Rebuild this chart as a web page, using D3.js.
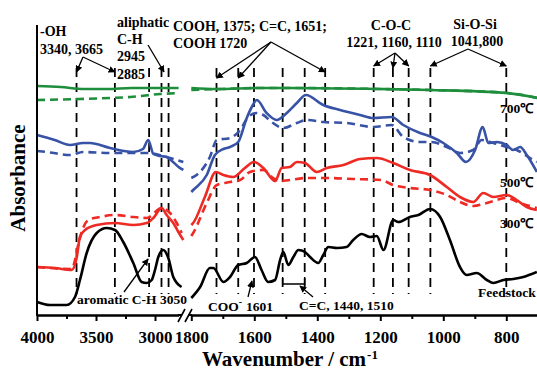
<!DOCTYPE html>
<html>
<head>
<meta charset="utf-8">
<script src="https://cdn.jsdelivr.net/npm/d3@7"></script>
<style>
  body { margin: 0; background: #fff; }
  text { font-family: "Times New Roman", "Liberation Serif", serif; font-weight: bold; fill: #000; }
</style>
</head>
<body>
<svg id="chart"></svg>
<script>
let width = 537
let height = 371

// wavenumber (cm-1), absorbance (a.u.) -- high wavenumber part
let greenSolidHigh = [[4000,2.29],[3800,2.28],[3600,2.26],[3400,2.26],[3200,2.27],[3000,2.27],[2800,2.27]]
let greenDashHigh = [[4000,2.15],[3635,2.16],[3380,2.17],[3210,2.18],[2955,2.21],[2790,2.22]]
let blueSolidHigh = [[4000,1.80],[3850,1.75],[3720,1.70],[3610,1.72],[3551,1.72],[3381,1.67],[3186,1.63],[3102,1.66],
  [3057,1.75],[3014,1.61],[2957,1.59],[2901,1.58],[2847,1.53],[2800,1.48],[2760,1.45]]
let blueDashHigh = [[4000,1.64],[3918,1.63],[3720,1.60],[3610,1.63],[3381,1.62],[3184,1.62],[3057,1.62],[2901,1.58],[2760,1.53]]
let redSolidHigh = [[4000,0.48],[3847,0.47],[3706,0.45],[3664,0.57],[3636,0.78],[3593,0.85],[3494,0.90],[3339,0.92],
  [3184,0.90],[3070,0.92],[3014,0.97],[2943,1.07],[2901,1.00],[2845,0.92],[2802,0.83],[2760,0.75]]
let redDashHigh = [[4000,0.48],[3706,0.46],[3678,0.55],[3664,0.63],[3621,0.83],[3565,0.95],[3466,0.98],[3339,1.00],
  [3184,0.98],[3070,0.97],[2943,1.07],[2873,1.02],[2816,0.92],[2774,0.82]]
let blackHigh = [[4000,0.13],[3890,0.10],[3748,0.10],[3678,0.18],[3636,0.35],[3579,0.62],[3494,0.82],[3409,0.87],
  [3339,0.85],[3269,0.73],[3184,0.52],[3113,0.33],[3070,0.32],[3028,0.35],[3000,0.45],[2972,0.58],[2930,0.65],
  [2887,0.57],[2845,0.38],[2775,0.28]]

// low wavenumber part
let greenSolidLow = [[1800,2.27],[1720,2.26],[1582,2.27],[1487,2.27],[1201,2.26],[1040,2.25],[798,2.22],[700,2.17]]
let greenDashLow = [[1800,2.25],[1700,2.26],[1582,2.27],[1487,2.27],[1201,2.26],[1040,2.25],[798,2.22],[700,2.17]]
let blueSolidLow = [[1800,1.23],[1794,1.25],[1751,1.40],[1725,1.60],[1698,1.66],[1677,1.68],[1651,1.73],[1624,1.97],
  [1608,2.08],[1592,2.15],[1561,2.02],[1529,1.95],[1497,2.02],[1465,2.12],[1436,2.20],[1381,2.10],[1328,2.05],
  [1264,2.00],[1222,1.97],[1164,1.98],[1127,1.90],[1074,1.82],[1037,1.78],[1000,1.72],[957,1.62],[928,1.53],
  [899,1.65],[875,1.88],[857,1.72],[830,1.73],[799,1.70],[778,1.65],[756,1.68],[735,1.60],[703,1.43]]
let blueDashLow = [[1800,1.37],[1783,1.40],[1741,1.58],[1719,1.75],[1677,1.77],[1645,1.85],[1619,1.98],[1592,2.02],
  [1571,2.00],[1545,1.93],[1508,1.87],[1465,1.92],[1434,1.95],[1381,1.93],[1307,1.92],[1222,1.88],[1164,1.90],
  [1127,1.78],[1074,1.73],[1037,1.73],[989,1.68],[947,1.62],[905,1.65],[878,1.75],[841,1.72],[799,1.68],
  [767,1.65],[725,1.57],[703,1.53]]
let redSolidLow = [[1800,0.90],[1794,0.92],[1757,1.18],[1722,1.43],[1698,1.40],[1667,1.38],[1630,1.47],[1601,1.53],
  [1571,1.47],[1534,1.34],[1513,1.47],[1487,1.48],[1465,1.53],[1439,1.52],[1402,1.43],[1370,1.47],[1317,1.50],
  [1264,1.56],[1211,1.57],[1159,1.52],[1106,1.45],[1042,1.40],[989,1.28],[947,1.18],[905,1.13],[873,1.22],
  [841,1.18],[799,1.20],[767,1.15],[735,1.08],[703,1.05]]
let redDashLow = [[1800,0.79],[1794,0.82],[1751,1.12],[1719,1.30],[1677,1.33],[1645,1.35],[1614,1.43],[1571,1.45],
  [1540,1.37],[1518,1.34],[1434,1.37],[1370,1.37],[1286,1.36],[1198,1.35],[1159,1.30],[1106,1.27],[1042,1.25],
  [989,1.20],[947,1.13],[905,1.09],[862,1.12],[799,1.17],[756,1.12],[703,1.07]]
let blackLow = [[1800,0.17],[1772,0.28],[1741,0.47],[1730,0.47],[1698,0.33],[1677,0.38],[1651,0.50],[1624,0.52],
  [1598,0.58],[1577,0.45],[1556,0.33],[1534,0.35],[1518,0.55],[1508,0.63],[1492,0.50],[1476,0.58],[1460,0.65],
  [1439,0.63],[1423,0.58],[1397,0.52],[1381,0.60],[1365,0.68],[1338,0.67],[1307,0.68],[1286,0.75],[1259,0.81],
  [1233,0.78],[1211,0.79],[1190,0.65],[1159,0.95],[1143,0.93],[1106,0.98],[1079,1.00],[1042,1.06],[1010,0.98],
  [979,0.75],[947,0.48],[926,0.40],[894,0.42],[862,0.35],[841,0.32],[809,0.35],[778,0.36],[746,0.38],[703,0.43]]

let peaksHigh = [3665, 3340, 3050, 2945, 2885]
let peaksLow = [1720, 1651, 1601, 1510, 1440, 1375, 1221, 1160, 1110, 1041, 800]

let ticksHigh = [4000, 3500, 3000]
let minorHigh = [3750, 3250]
let ticksLow = [1800, 1600, 1400, 1200, 1000, 800]
let minorLow = [1700, 1500, 1300, 1100, 900]

let sampleLabels = ['700℃', '500℃', '300℃', 'Feedstock']

let svg = d3.select('#chart').attr('width', width).attr('height', height)

let xHigh = d3.scaleLinear().domain([4000, 2800]).range([37, 178.6])
let xLow = d3.scaleLinear().domain([1800, 700]).range([191.3, 537.8])
let y = d3.scaleLinear().domain([0, 2.9]).range([315, 25])

// arrow head
svg.append('defs').append('marker')
   .attr('id', 'head')
   .attr('viewBox', '0 0 10 10')
   .attr('refX', 9).attr('refY', 5)
   .attr('markerWidth', 7).attr('markerHeight', 7)
   .attr('markerUnits', 'userSpaceOnUse')
   .attr('orient', 'auto')
   .append('path').attr('d', 'M0,0 L10,5 L0,10 z').attr('fill', '#000')

/* peak guide lines */
let guides = svg.append('g')
  .attr('stroke', '#000').attr('stroke-width', 1.8).attr('stroke-dasharray', '9,6')
guides.selectAll('.gh').data(peaksHigh).enter().append('line')
  .attr('x1', d => xHigh(d)).attr('x2', d => xHigh(d)).attr('y1', 68).attr('y2', 294)
guides.selectAll('.gl').data(peaksLow).enter().append('line')
  .attr('x1', d => xLow(d)).attr('x2', d => xLow(d)).attr('y1', 68).attr('y2', 294)

/* spectra */
let series = [
  { h: greenDashHigh, l: greenDashLow, color: '#1f8e3c', dash: '8,5' },
  { h: greenSolidHigh, l: greenSolidLow, color: '#1f8e3c', dash: null },
  { h: blueDashHigh, l: blueDashLow, color: '#3852a6', dash: '8,5' },
  { h: blueSolidHigh, l: blueSolidLow, color: '#3852a6', dash: null },
  { h: redDashHigh, l: redDashLow, color: '#ee2a24', dash: '8,5' },
  { h: redSolidHigh, l: redSolidLow, color: '#ee2a24', dash: null },
  { h: blackHigh, l: blackLow, color: '#000', dash: null }
]

let lineHigh = d3.line().x(d => xHigh(d[0])).y(d => y(d[1])).curve(d3.curveMonotoneX)
let lineLow = d3.line().x(d => xLow(d[0])).y(d => y(d[1])).curve(d3.curveMonotoneX)

series.forEach(s => {
  svg.append('path').attr('d', lineHigh(s.h))
     .attr('fill', 'none').attr('stroke', s.color).attr('stroke-width', 2.6)
     .attr('stroke-dasharray', s.dash)
  svg.append('path').attr('d', lineLow(s.l))
     .attr('fill', 'none').attr('stroke', s.color).attr('stroke-width', 2.6)
     .attr('stroke-dasharray', s.dash)
})

/* axes */
function styleAxis(g) {
  g.selectAll('.domain').attr('stroke-width', 2)
  g.selectAll('.tick line').attr('stroke-width', 2)
  g.selectAll('.tick text')
   .attr('font-family', '"Times New Roman", "Liberation Serif", serif')
   .attr('font-weight', 'bold').attr('font-size', 17).attr('dy', '0.95em')
}

let fmt = d3.format('d')
svg.append('g').attr('transform', 'translate(0,315)')
   .call(d3.axisBottom(xHigh).tickValues(ticksHigh).tickFormat(fmt).tickSize(6).tickSizeOuter(0).tickPadding(6))
   .call(styleAxis)
svg.append('g').attr('transform', 'translate(0,315)')
   .call(d3.axisBottom(xHigh).tickValues(minorHigh).tickSize(4).tickFormat('').tickSizeOuter(0))
   .call(styleAxis)
svg.append('g').attr('transform', 'translate(0,315)')
   .call(d3.axisBottom(xLow).tickValues(ticksLow).tickFormat(fmt).tickSize(6).tickSizeOuter(0).tickPadding(6))
   .call(styleAxis)
svg.append('g').attr('transform', 'translate(0,315)')
   .call(d3.axisBottom(xLow).tickValues(minorLow).tickSize(4).tickFormat('').tickSizeOuter(0))
   .call(styleAxis)

// extend line to the break marks
svg.append('line').attr('x1', 178).attr('x2', 182).attr('y1', 315).attr('y2', 315)
   .attr('stroke', '#000').attr('stroke-width', 2)
svg.append('line').attr('x1', 188).attr('x2', 192).attr('y1', 315).attr('y2', 315)
   .attr('stroke', '#000').attr('stroke-width', 2)
svg.append('path').attr('d', 'M178,322 L185,309 M185,322 L192,309')
   .attr('stroke', '#000').attr('stroke-width', 1.6).attr('fill', 'none')

// y axis (no ticks)
svg.append('line').attr('x1', 37).attr('x2', 37).attr('y1', 25).attr('y2', 316)
   .attr('stroke', '#000').attr('stroke-width', 2)

let xTitle = svg.append('text').attr('x', 202).attr('y', 366)
   .attr('font-size', 21).text('Wavenumber / cm')
let titleEnd = 202 + xTitle.node().getComputedTextLength()
svg.append('text').attr('x', titleEnd + 1).attr('y', 359)
   .attr('font-size', 13).text('-1')

svg.append('text').attr('transform', 'translate(25,178) rotate(-90)')
   .attr('text-anchor', 'middle').attr('font-size', 21).text('Absorbance')

/* annotations */
let ann = svg.append('g').attr('font-size', 14)
function label(x, yy, t, anchor) {
  ann.append('text').attr('x', x).attr('y', yy).attr('text-anchor', anchor || 'start').text(t)
}
function arrow(x1, y1, x2, y2) {
  svg.append('line').attr('x1', x1).attr('y1', y1).attr('x2', x2).attr('y2', y2)
     .attr('stroke', '#000').attr('stroke-width', 1.3).attr('marker-end', 'url(#head)')
}

label(40, 36, '-OH')
label(40, 54, '3340, 3665')
arrow(83, 57, xHigh(3665), 72)
arrow(83, 57, xHigh(3340), 72)

label(117, 27, 'aliphatic')
label(117, 44, 'C-H')
label(117, 61, '2945')
label(117, 79, '2885')
arrow(148, 45, 164, 72)

label(173, 31, 'COOH, 1375; C=C, 1651;')
label(173, 48, 'COOH 1720')
arrow(271, 42, xLow(1720), 78)
arrow(271, 42, xLow(1651), 78)
arrow(271, 42, xLow(1375), 72)

label(391, 30, 'C-O-C', 'middle')
label(394, 47, '1221, 1160, 1110', 'middle')
arrow(395, 53, xLow(1221), 66)
arrow(395, 53, xLow(1160), 68)
arrow(395, 53, xLow(1110), 66)

label(475, 29, 'Si-O-Si', 'middle')
label(477, 46, '1041,800', 'middle')
arrow(468, 49, xLow(1041), 66)
arrow(468, 49, xLow(800), 66)

let small = svg.append('g').attr('font-size', 13.5)
small.append('text').attr('x', 77).attr('y', 304).text('aromatic C-H 3050')
arrow(124, 292, xHigh(3050) - 1, 259)

let coo = small.append('text').attr('x', 208).attr('y', 311)
coo.append('tspan').text('COO')
coo.append('tspan').attr('dy', -6).attr('font-size', 10).text('-')
coo.append('tspan').attr('dy', 6).attr('dx', 4).text('1601')
arrow(248, 297, xLow(1601) - 2, 281)

small.append('text').attr('x', 299).attr('y', 310).text('C=C, 1440, 1510')
svg.append('path')
   .attr('d', `M${xLow(1510)},277 V284 H${xLow(1440)} V277`)
   .attr('fill', 'none').attr('stroke', '#000').attr('stroke-width', 1.3)
arrow(313, 297, 300, 286)

let labelPos = [[500, 113], [500, 187], [500, 228], [478, 297]]
small.selectAll('.sample').data(sampleLabels).enter().append('text')
  .attr('x', (d, i) => labelPos[i][0]).attr('y', (d, i) => labelPos[i][1])
  .text(d => d)
</script>
</body>
</html>
